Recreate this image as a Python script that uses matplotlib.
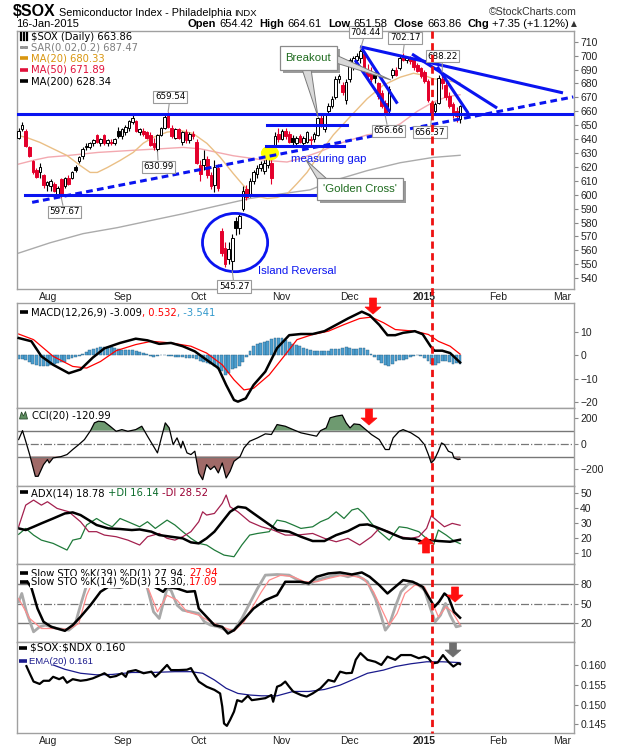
import numpy as np
import matplotlib
matplotlib.use("Agg")
import matplotlib.pyplot as plt
from matplotlib.patches import Ellipse, Polygon, Rectangle
from matplotlib.lines import Line2D
import matplotlib.transforms as mtransforms

plt.rcParams['font.family'] = ['Liberation Sans', 'DejaVu Sans']

# ---------------------------------------------------------------- data
opens = [
    641, 647, 646, 634, 624, 618, 616, 614, 607, 606,
    608, 600, 611, 606, 612, 612, 620, 624, 628, 634,
    634, 637, 643, 637, 643, 637, 638, 637, 646, 642,
    645, 648, 652, 653, 645, 646, 645, 643, 637, 633,
    643, 648, 658, 648, 641, 647, 638, 645, 639, 644,
    638, 621, 621, 626, 614, 607, 619, 574, 562, 554,
    552, 581, 576, 590, 604, 600, 610, 615, 619, 617,
    621, 623, 636, 644, 640, 646, 644, 641, 637, 642,
    637, 638, 639, 640, 643, 655, 647, 660, 664, 670,
    683, 679, 668, 683, 694, 697, 698, 701, 690, 688,
    686, 680, 673, 666, 661, 686, 690, 691, 700, 697,
    698, 697, 693, 691, 688, 682, 666, 660, 666, 683,
    679, 671, 665, 660, 654.42]
highs = [
    648, 652, 647, 635, 625, 619, 623, 615, 610, 611,
    609, 606, 612, 613, 614, 617, 621, 628, 634, 637,
    638, 640, 644, 641, 644, 640, 640, 641, 649, 648,
    650, 654, 657, 654, 648, 648, 646, 645, 641, 644,
    649, 657, 659.54, 650, 648, 648, 646, 647, 645, 646,
    640, 625, 632, 628, 616, 625, 622, 576, 566, 566,
    572, 584, 587, 606, 607, 612, 618, 621, 624, 625,
    630, 626, 645, 648, 647, 648, 646, 643, 642, 644,
    642, 646, 642, 645, 656, 657, 658, 666, 671, 685,
    687, 681, 683, 698, 700, 702, 704.44, 703, 694, 692,
    688, 681, 675, 668, 678, 691, 692, 700, 702.17, 700,
    700, 699, 695, 692, 690, 683, 668, 667, 686, 688.22,
    682, 674, 667, 663, 664.61]
lows = [
    640, 646, 634, 627, 615, 612, 612, 605, 603, 603,
    602, 599, 597.67, 605, 607, 611, 616, 623, 626, 632,
    633, 635, 637, 635, 636, 635, 636, 636, 641, 640,
    643, 646, 651, 645, 643, 642, 640, 635, 632, 630.99,
    642, 647, 648, 641, 640, 640, 636, 637, 637, 640,
    622, 610, 618, 612, 604, 602, 603, 556, 548, 550,
    545.27, 571, 572, 588, 596, 598, 608, 612, 617, 615,
    619, 608, 635, 638, 639, 640, 637, 636, 635, 637,
    636, 637, 636, 638, 642, 649, 645, 658, 662, 669,
    680, 672, 665, 681, 690, 693, 695, 686, 683, 681,
    680, 669, 662, 656.66, 659, 684, 685, 690, 696, 695,
    694, 690, 688, 684, 680, 667, 656.37, 658, 665, 676,
    668, 662, 655, 652, 651.58]
closes = [
    646, 650, 635, 628, 616, 613, 620, 607, 609, 610,
    603, 605, 600, 612, 608, 616, 618, 627, 633, 635,
    637, 639, 638, 640, 637, 639, 637, 640, 642, 647,
    649, 653, 655, 646, 647, 644, 641, 636, 634, 643,
    648, 656, 649, 642, 647, 641, 645, 639, 644, 642,
    623, 615, 626, 614, 606, 620, 605, 558, 550, 561,
    569, 576, 585, 603, 598, 610, 616, 619, 622, 623,
    628, 612, 642, 640, 646, 642, 638, 638, 641, 638,
    641, 645, 640, 644, 655, 651, 657, 664, 669, 683,
    685, 674, 681, 697, 698, 700, 703, 688, 685, 683,
    684, 671, 664, 659, 676, 690, 686, 698, 697, 698,
    696, 692, 689, 685, 682, 668, 659, 665, 684, 680,
    670, 664, 658, 656.51, 663.86]

ma20_days = [0, 2.4, 6.0, 9.7, 13.6, 17.3, 20.1, 22.1, 24.9, 28.5, 32.2, 35.0, 37.8, 41.7,
             45.4, 49.0, 52.9, 56.6, 60.3, 63.1, 65.9, 69.8, 72.6, 75.4, 78.2, 81.0, 84.7,
             88.4, 93.1, 97.9, 102.4, 107.2, 110.9, 113.7, 116.4, 120.4, 124]
ma20_vals = [642.5, 641, 637.6, 633, 628.2, 621, 616, 616, 619.5, 624.6, 630.4, 637, 641.2, 645,
             646.2, 644, 636.9, 627, 615.2, 606.8, 599.5, 597.3, 598, 600.5, 608, 616, 630,
             643, 656, 669, 678.7, 684.5, 687.3, 686, 683.4, 682, 680.33]
ma50_days = [0, 4.6, 8.3, 13.1, 22.3, 32.7, 39.7, 46.2, 51.0, 60.3, 69.8, 75.4, 79.1, 84.7,
             90.3, 97.9, 102.4, 107.2, 112.0, 116.4, 120.4, 124]
ma50_vals = [622, 625, 627, 628, 630.4, 632, 633, 634, 633, 628, 624.6, 623.5, 626, 631,
             637, 643, 645, 651, 660, 666.5, 670.5, 671.89]
ma200_days = [0, 8.8, 18.1, 27.7, 36.9, 46.2, 55.8, 65.0, 74.3, 81.9, 88.3, 97.9, 107.2, 116.4, 124]
ma200_vals = [558, 565.4, 572, 576.3, 581.3, 586.3, 592, 597.3, 600.8, 603.5, 610, 617.3, 623,
              626.8, 628.34]
sar_last = 687.47

macd_days = [0, 3.6, 6.4, 9.7, 14.1, 17.4, 20.8, 24.1, 28.5, 32.9, 36.2, 39.5, 42.8, 46.1, 49.5,
             52.8, 56.1, 58.3, 60.5, 61.6, 63.8, 66.0, 69.3, 72.6, 76.0, 79.3, 82.6, 85.9, 89.2,
             92.5, 96.4, 98.6, 101.3, 103.6, 105.8, 108.0, 111.3, 113.5, 115.7, 116.8, 119.0,
             121.2, 124.0]
macd_vals = [7.4, 6.0, -0.4, -4.0, -7.6, -6.0, -1.0, 3.0, 5.3, 7.1, 6.4, 4.9, 5.3, 3.9, 1.7,
             -1.9, -5.4, -12.6, -19.0, -19.7, -18.3, -12.6, -6.9, 3.1, 8.6, 9.1, 9.1, 10.3, 13.0,
             15.7, 18.6, 17.1, 13.0, 8.6, 8.6, 9.6, 10.3, 9.0, 3.9, 2.0, 2.0, 1.0, -3.009]
signal_days = [0, 4.2, 9.7, 15.2, 19.1, 23.0, 27.4, 32.9, 37.3, 42.8, 48.4, 52.8, 57.2, 60.5,
               63.3, 66.0, 70.4, 74.9, 78.2, 82.6, 87.0, 91.4, 95.8, 99.1, 102.5, 105.8, 111.3,
               115.1, 117.9, 121.2, 124.0]
signal_vals = [9.1, 6.7, -0.4, -4.7, -5.4, -2.6, 2.0, 4.6, 6.0, 5.3, 3.9, 1.0, -4.0, -10.4,
               -14.7, -14.0, -8.3, 0.3, 6.7, 8.9, 10.3, 13.1, 15.7, 16.3, 13.9, 11.0, 10.3, 8.9,
               6.0, 3.9, 0.532]
macd_hist = [
    -1.4, -1.5, -1.8, -2.8, -3.5, -4.0, -4.4, -4.7, -4.5, -4.3,
    -3.5, -3.2, -3.0, -2.8, -1.6, -1.2, -0.8, -0.2, 0.8, 1.5,
    2.2, 2.8, 3.3, 3.5, 3.6, 3.6, 3.4, 3.0, 2.6, 2.4,
    2.4, 2.3, 2.1, 2.0, 1.5, 1.0, 0.6, -0.3, -0.5, -0.3,
    0.0, 0.1, -0.2, -0.4, -0.5, -0.6, -0.9, -1.1, -1.0, -1.2,
    -1.5, -2.4, -3.0, -3.2, -3.5, -4.5, -5.6, -6.5, -8.3, -7.5,
    -6.0, -5.2, -4.5, -2.8, -0.5, 2.0, 3.8, 5.0, 5.4, 5.6,
    6.0, 6.8, 7.2, 7.4, 7.3, 6.5, 5.5, 4.8, 4.6, 4.2,
    3.3, 2.6, 2.2, 2.0, 1.9, 2.0, 1.9, 2.0, 2.6, 2.9,
    2.7, 3.1, 3.5, 3.0, 2.6, 2.9, 3.1, 3.2, 2.2, 0.5,
    -0.8, -1.9, -3.2, -4.3, -4.7, -3.6, -2.6, -2.0, -1.9, -1.5,
    -0.9, -0.3, 0.0, -0.3, -1.0, -2.5, -3.8, -4.0, -3.2, -2.6,
    -2.2, -3.0, -3.6, -3.3, -3.541]

cci_days = [0, 1.1, 2.0, 3.1, 4.7, 5.5, 7.0, 8.1, 8.6, 9.7, 10.8, 11.9, 13.6, 15.2, 16.9, 18.5,
            20.2, 21.3, 22.4, 24.1, 25.7, 27.4, 29.0, 30.7, 32.9, 34.6, 36.2, 37.9, 39.0, 40.1,
            41.2, 42.3, 43.4, 44.5, 45.6, 46.1, 47.3, 48.4, 49.5, 50.6, 51.7, 52.8, 53.9, 55.0,
            56.1, 57.2, 58.3, 59.4, 60.5, 62.2, 63.3, 64.9, 67.1, 69.3, 71.0, 72.6, 74.9, 77.1,
            79.3, 81.5, 83.7, 84.8, 86.4, 87.5, 89.2, 90.9, 92.0, 93.1, 94.2, 95.8, 97.5, 99.1,
            101.3, 103.0, 104.1, 105.2, 106.9, 108.0, 110.2, 112.4, 114.0, 115.1, 115.9, 116.8,
            117.9, 118.8, 119.6, 120.7, 121.8, 122.3, 123.4, 124.0]
cci_vals = [31, 100, 18, -85, -253, -253, -163, -124, -150, -111, -106, -101, -85, -46, -8, 31,
            100, 160, 173, 168, 134, 95, 108, 95, 108, 134, 57, -21, -72, 44,
            160, 121, -8, 44, -34, 18, -72, -85, -59, -227, -279, -163, -201, -175,
            -227, -150, -266, -214, -137, -101, -34, 18, 44, 75, 70, 147, 134, 108,
            83, 70, 57, 100, 121, 199, 212, 220, 160, 121, 152, 147, 108, 70,
            31, -46, -46, 44, 95, 108, 83, 44, -8, -85, -150, -124,
            -59, 5, -8, -59, -72, -111, -124, -120.99]

adx_days = [0, 2.0, 4.2, 6.4, 9.7, 13.0, 15.2, 17.4, 19.7, 21.9, 25.2, 28.5, 31.8, 34.0, 37.3,
            39.5, 42.8, 46.1, 48.4, 50.6, 52.8, 55.0, 57.2, 59.4, 61.6, 63.8, 66.0, 69.3, 72.6,
            76.0, 79.3, 82.6, 85.9, 89.2, 92.5, 95.8, 98.0, 100.2, 102.5, 105.8, 108.0, 111.3,
            113.5, 115.7, 117.9, 121.2, 124.0]
adx_vals = [26.4, 25.3, 27.5, 29.8, 33.1, 36.5, 37.2, 35.4, 32.0, 28.7, 26.4, 26.0, 25.3, 25.7,
            24.2, 21.9, 20.8, 19.7, 17.0, 16.3, 19.7, 24.2, 30.9, 37.6, 41.0, 40.3, 36.5, 30.9,
            25.3, 24.2, 20.8, 17.9, 17.9, 21.9, 24.6, 28.7, 29.1, 27.5, 25.3, 21.9, 19.7, 19.2,
            17.4, 18.5, 17.9, 17.4, 18.78]
pdi_days = [0, 2.0, 4.2, 6.4, 9.7, 13.6, 15.2, 17.4, 19.1, 21.9, 24.1, 26.3, 28.5, 30.7, 34.0,
            36.2, 38.4, 41.7, 43.9, 46.1, 48.4, 50.6, 52.8, 55.0, 57.7, 60.5, 62.7, 64.9, 67.1,
            70.4, 72.6, 74.9, 77.1, 79.3, 82.6, 84.8, 87.0, 89.2, 91.4, 93.6, 95.3, 96.9, 99.1,
            101.3, 104.1, 106.9, 109.1, 112.4, 114.0, 115.7, 116.6, 117.9, 120.1, 122.3, 124.0]
pdi_vals = [22.4, 26.4, 21.9, 18.5, 16.3, 11.8, 18.5, 19.7, 28.7, 33.1, 29.8, 27.5, 33.1, 30.9,
            27.5, 30.9, 26.4, 32.0, 28.7, 24.2, 19.7, 16.3, 15.2, 11.8, 8.4, 7.3, 15.2, 21.9,
            23.0, 24.2, 32.0, 30.9, 28.7, 26.4, 27.5, 30.9, 33.1, 37.6, 33.1, 38.8, 39.9, 36.5,
            29.8, 24.2, 18.5, 27.5, 26.8, 24.2, 20.8, 17.4, 15.6, 25.3, 21.9, 17.9, 16.14]
mdi_days = [0, 2.0, 4.2, 6.4, 8.1, 10.8, 14.1, 17.4, 19.7, 21.9, 24.1, 27.4, 30.7, 34.0, 36.2,
            39.5, 41.7, 43.9, 46.1, 48.4, 50.6, 51.7, 52.8, 55.0, 57.2, 58.3, 59.4, 61.6, 64.9,
            68.2, 71.5, 74.9, 78.2, 82.6, 85.9, 89.2, 92.5, 95.8, 99.1, 101.3, 104.1, 106.9,
            110.2, 112.4, 114.6, 115.9, 117.9, 119.6, 121.8, 124.0]
mdi_vals = [27.5, 42.1, 45.5, 42.1, 44.4, 39.9, 37.6, 30.9, 24.2, 24.2, 21.9, 20.8, 18.5, 15.2,
            20.8, 23.0, 19.7, 18.5, 20.8, 24.2, 30.9, 37.6, 35.4, 36.5, 43.3, 48.9, 41.0, 37.6,
            30.9, 27.5, 25.3, 21.9, 21.9, 23.0, 19.7, 17.4, 19.7, 15.2, 20.8, 26.4, 24.2, 20.8,
            19.7, 20.8, 26.4, 34.9, 30.9, 27.5, 29.8, 28.52]

sto39_days = [2.5, 3.6, 5.3, 7.0, 9.2, 13.0, 15.2, 17.4, 20.2, 23.0, 25.2, 28.5, 32.9, 36.2, 39.0,
              40.6, 41.7, 44.5, 47.3, 49.5, 50.6, 52.8, 55.0, 57.2, 58.8, 60.5, 62.7, 66.0, 69.3,
              72.6, 74.9, 77.1, 79.3, 81.5, 83.7, 87.0, 90.3, 93.6, 96.4, 98.6, 101.3, 103.6,
              105.8, 108.0, 110.7, 113.5, 115.7, 116.8, 118.1, 119.6, 120.7, 122.3, 124.0]
sto39_vals = [84, 74.8, 42.4, 21.6, 13.7, 7.5, 16.4, 29.4, 47.7, 68.5, 76.3, 75.3, 80, 82, 73.7,
              68.5, 76, 73.7, 68.5, 69.5, 42.4, 29.4, 16.4, 13.7, 3.3, 8.5, 21.6, 42.4, 55.5,
              63.3, 84.2, 84.2, 84.2, 81.6, 92, 97.2, 98.8, 95.6, 98.8, 92, 79, 65.9,
              76.3, 86.8, 84.2, 76.3, 55.5, 45, 52.9, 65.9, 60.7, 37.2, 27.94]
sto14_days = [0, 0.9, 2.2, 4.2, 5.9, 7.5, 10.8, 14.1, 15.8, 17.4, 19.1, 20.2, 24.1, 28.5, 32.9,
              35.1, 36.2, 37.9, 39.5, 41.7, 42.8, 44.5, 46.1, 48.4, 50.6, 52.2, 53.9, 56.1, 58.3,
              60.5, 62.7, 64.9, 67.1, 69.3, 72.6, 76.0, 79.3, 81.5, 83.7, 87.0, 90.3, 92.5, 94.7,
              98.0, 100.2, 101.9, 103.0, 104.1, 105.8, 107.4, 109.6, 111.8, 114.0, 115.7, 117.0,
              118.5, 119.9, 121.2, 122.9, 124.0]
sto14_vals = [52.9, 65.9, 37.2, 5.9, 13.7, 16.4, 11.1, 8.5, 16.4, 47.7, 78.9, 95, 95, 92, 88,
              85, 73.7, 37.2, 26.8, 73.7, 71, 47.7, 39.8, 37.2, 34.6, 21.6, 16.4, 13.7, 8.5,
              8.5, 26.8, 50.3, 73.7, 94.6, 95.6, 94.6, 84.2, 80, 86.8, 92, 95.6, 92, 95.6,
              84.2, 58.1, 29.4, 8.5, 16.4, 45, 68.5, 81.6, 81.6, 71.1, 42.4, 21.6,
              32, 50.3, 32, 13.7, 15.30]
std3_days = [0, 3.1, 6.4, 9.7, 14.1, 16.9, 19.1, 21.3, 28.5, 35.1, 36.8, 39.0, 41.7, 44.5, 47.3,
             50.6, 53.9, 57.2, 60.5, 63.3, 66.0, 68.2, 70.4, 73.7, 77.1, 80.4, 83.7, 87.0, 90.3,
             93.6, 96.9, 99.7, 101.9, 104.1, 106.3, 108.5, 111.3, 114.0, 116.3, 117.9, 120.1,
             121.8, 124.0]
std3_vals = [58, 26.8, 11.1, 11.1, 10, 19, 63, 90, 92, 88, 68.5, 37.2, 63, 55.5, 37.2,
             32, 21.6, 13.7, 7, 21.6, 47.7, 68.5, 86.8, 94.6, 92, 84.2, 84.2, 89.4, 93.6,
             93.6, 89.4, 68.5, 42.4, 16.4, 34.6, 65.9, 79, 76.3, 50.3, 29.4, 45,
             37.2, 17.09]

ratio_days = [2.2, 3.1, 4.2, 5.9, 7.0, 8.6, 9.7, 11.4, 12.5, 13.6, 15.2, 17.4, 19.1, 20.8, 22.4,
              24.1, 25.7, 27.4, 29.0, 30.1, 30.7, 32.9, 35.1, 37.3, 38.4, 39.5, 41.7, 42.8, 45.0,
              47.3, 48.4, 49.5, 50.6, 52.8, 55.0, 56.6, 57.2, 57.7, 58.5, 59.4, 60.5, 61.4, 62.7,
              64.4, 65.5, 67.1, 69.3, 71.0, 71.5, 72.6, 73.7, 74.9, 76.0, 77.1, 79.3, 80.9, 82.6,
              84.8, 87.0, 88.7, 90.3, 92.0, 93.6, 94.7, 96.0, 98.0, 100.2, 101.9, 103.6, 105.8,
              107.4, 110.2, 112.4, 114.0, 115.1, 116.3, 117.7, 119.2, 120.7, 122.1, 123.4, 124.0]
ratio_vals = [0.1597, 0.1579, 0.1558, 0.1552, 0.1560, 0.1560, 0.1570, 0.1564, 0.1569, 0.1555,
              0.1564, 0.1560, 0.1562, 0.1566, 0.1572, 0.1579, 0.1569, 0.1572, 0.1579, 0.1570,
              0.1583, 0.1587, 0.1579, 0.1583, 0.1570, 0.1579, 0.1600, 0.1587, 0.1587, 0.1588,
              0.1592, 0.1575, 0.1558, 0.1545, 0.1537, 0.1528, 0.1495, 0.1452, 0.1446, 0.1461,
              0.1482, 0.1511, 0.1507, 0.1522, 0.1511, 0.1513, 0.1516, 0.1524, 0.1507, 0.1545,
              0.1549, 0.1558, 0.1545, 0.1533, 0.1524, 0.1520, 0.1528, 0.1541, 0.1562, 0.1558,
              0.1583, 0.1579, 0.1580, 0.1613, 0.1630, 0.1613, 0.1608, 0.1600, 0.1621, 0.1613,
              0.1625, 0.1625, 0.1617, 0.1621, 0.1617, 0.1604, 0.1606, 0.1625, 0.1608, 0.1596,
              0.1604, 0.1602]
ema_days = [9.7, 13.0, 17.4, 21.9, 26.3, 31.8, 37.3, 43.9, 48.4, 51.7, 55.0, 58.3, 61.6, 64.9,
            68.2, 72.6, 77.1, 81.5, 85.9, 90.3, 94.7, 98.0, 102.5, 105.8, 110.2, 114.6, 119.0,
            124.0]
ema_vals = [0.1600, 0.1589, 0.1579, 0.1575, 0.1576, 0.1581, 0.1581, 0.1583, 0.1583, 0.1579,
            0.1562, 0.1541, 0.1528, 0.1524, 0.1522, 0.1522, 0.1533, 0.1533, 0.1538, 0.1549,
            0.1566, 0.1579, 0.1587, 0.1596, 0.1603, 0.1608, 0.1608, 0.1606]

month_labels = ["Aug", "Sep", "Oct", "Nov", "Dec", "2015", "Feb", "Mar"]
month_days = [8.3, 29.4, 50.7, 73.8, 92.9, 114.0, 134.6, 152.6]
marker_day = 116.1
date_text = "16-Jan-2015"

peak_days = [42, 96, 108, 119]
trough_days = [12, 39, 60, 103, 116]

# analyst drawings (day, price)
resistance_level = 657.8
support_level = 599.8
support_span = (1.8, 84.1)
rising_trend = [(3.8, 594.5), (155.8, 670.3)]
down_trends = [[(95.9, 706.4), (152.9, 673.2)],
               [(110.5, 701.1), (134.4, 662.3)],
               [(117.6, 692.0), (126.3, 658.5)],
               [(94.5, 696.8), (104.3, 659.5)],
               [(96.4, 705.2), (106.4, 665.5)]]
breakout_levels = [(69.8, 92.3, 649.8), (69.5, 91.4, 634.7)]
gap_marker = (70.6, 629.9, 4.7, 9.6)
island_marker = (60.8, 565.6, 18.3, 41.9)

# ---------------------------------------------------------------- figure
RED = '#e4002b'
BLUE = '#0a14f0'
W, H = 620.0, 750.0
fig = plt.figure(figsize=(6.2, 7.5), dpi=100)
fig.patch.set_facecolor('white')


def fx(x):
    return x / W


def fy(y):
    return 1.0 - y / H


L, R = 17, 574


def panel(top, bottom):
    ax = fig.add_axes([fx(L), fy(bottom), (R - L) / W, (bottom - top) / H])
    ax.set_xlim(-0.45, 156)
    for s in ax.spines.values():
        s.set_color('#a0a0a0')
        s.set_linewidth(1)
    ax.yaxis.tick_right()
    ax.tick_params(axis='y', direction='out', length=3, width=0.8, color='#888888',
                   labelsize=7.5, pad=1.5, labelcolor='#222222')
    ax.tick_params(axis='x', length=0, labelbottom=False)
    return ax


ax = panel(31, 289)
ax_macd = panel(303, 408)
ax_cci = panel(408, 486)
ax_adx = panel(486, 564)
ax_sto = panel(564, 642)
ax_rat = panel(642, 733)

for a in (ax, ax_rat):
    a.set_xticks(month_days)
    a.set_xticklabels(month_labels)
    a.tick_params(axis='x', labelbottom=True, length=0, pad=2.5, labelsize=7.5,
                  labelcolor='#222222')
    a.get_xticklabels()[month_labels.index("2015")].set_fontweight('bold')

# ---------------- main price panel
days = np.arange(len(closes))
o = np.array(opens, float)
h = np.array(highs, float)
lo = np.array(lows, float)
c = np.array(closes, float)
prev = np.r_[c[0], c[:-1]]
edge = np.where(c < prev, RED, 'black')
face = np.where(c >= o, 'white', edge)

ax.plot(ma200_days, ma200_vals, color='#ababab', lw=1.0, zorder=1)
ax.plot(ma50_days, ma50_vals, color='#f3a9b0', lw=1.0, zorder=1)
ax.plot(ma20_days, ma20_vals, color='#eabf85', lw=1.0, zorder=1)

ax.vlines(days, lo, h, colors=edge, lw=0.8, zorder=2)
ax.bar(days, np.maximum(np.abs(c - o), 0.4), bottom=np.minimum(o, c), width=0.75,
       color=face, edgecolor=edge, linewidth=0.7, zorder=3)

ax.axhline(resistance_level, color=BLUE, lw=2.2, zorder=4)
ax.plot(support_span, [support_level] * 2, color=BLUE, lw=2.2, zorder=4)
for d0, d1, lvl in breakout_levels:
    ax.plot([d0, d1], [lvl, lvl], color=BLUE, lw=2.2, zorder=4)
for (d0, p0), (d1, p1) in down_trends:
    ax.plot([d0, d1], [p0, p1], color=BLUE, lw=2.2, zorder=4, solid_capstyle='butt')
gx, gp, gw, gh = gap_marker
ax.add_patch(Ellipse((gx, gp), gw, gh, facecolor='#ffff00', edgecolor='#ffff00', zorder=3.5))
(d0, p0), (d1, p1) = rising_trend
ax.plot([d0, d1], [p0, p1], color=BLUE, lw=2.2, ls=(0, (2.2, 1.4)), zorder=4)
ix, ip, iw, ih = island_marker
ax.add_patch(Ellipse((ix, ip), iw, ih, facecolor='none', edgecolor=BLUE, lw=2, zorder=4))

ax.set_ylim(532.2, 717.7)
ax.set_yticks(np.arange(540, 711, 10))

# price labels (highs/lows)
peak_offsets = {42: (2, 10.5), 96: (5, 12.7), 108: (2, 10.3), 119: (0, 11.4)}
trough_offsets = {12: (3, -9.4), 39: (1, -10.5), 60: (2, -11.2), 103: (3, -10.4), 116: (-1.5, -11.5)}
box = dict(boxstyle='square,pad=0.18', facecolor='white', edgecolor='#9a9a9a', lw=0.8)
for d in peak_days:
    dxp, dyp = peak_offsets[d]
    ax.annotate(f"{highs[d]:.2f}", xy=(d, highs[d]), xytext=(dxp * 0.72, dyp * 0.72),
                textcoords='offset points', ha='center', va='bottom', fontsize=6.3,
                family=['DejaVu Sans'], bbox=box, zorder=6,
                arrowprops=dict(arrowstyle='-', color='#9a9a9a', lw=0.8, shrinkA=0, shrinkB=0))
for d in trough_days:
    dxp, dyp = trough_offsets[d]
    ax.annotate(f"{lows[d]:.2f}", xy=(d, lows[d]), xytext=(dxp * 0.72, dyp * 0.72),
                textcoords='offset points', ha='center', va='top', fontsize=6.3,
                family=['DejaVu Sans'], bbox=box, zorder=6,
                arrowprops=dict(arrowstyle='-', color='#9a9a9a', lw=0.8, shrinkA=0, shrinkB=0))

# ---------------- MACD
ax_macd.bar(days, macd_hist, width=0.8, color='#4c9fd0', edgecolor='#2a5f80', linewidth=0.3,
            zorder=1)
ax_macd.plot(signal_days, signal_vals, color='#ff0000', lw=0.9, zorder=2)
ax_macd.plot(macd_days, macd_vals, color='black', lw=1.8, zorder=3)
ax_macd.set_ylim(-22.4, 22.3)
ax_macd.set_yticks([-20, -10, 0, 10])

# ---------------- CCI
cd = np.array(cci_days)
cv = np.array(cci_vals, float)
ax_cci.fill_between(cd, cv, 100, where=cv > 100, interpolate=True, color='#6e9a70', lw=0)
ax_cci.fill_between(cd, cv, -100, where=cv < -100, interpolate=True, color='#a06a68', lw=0)
for lvl in (100, -100):
    ax_cci.axhline(lvl, color='#777777', lw=1)
ax_cci.axhline(0, color='#777777', lw=0.9, ls='-.')
ax_cci.plot(cd, cv, color='black', lw=0.9)
ax_cci.set_ylim(-328, 275)
ax_cci.set_yticks([-200, 0, 200])

# ---------------- ADX
ax_adx.plot(pdi_days, pdi_vals, color='#1f7a3a', lw=0.9)
ax_adx.plot(mdi_days, mdi_vals, color='#a3204e', lw=0.9)
ax_adx.plot(adx_days, adx_vals, color='black', lw=1.8)
ax_adx.set_ylim(2.4, 55)
ax_adx.set_yticks([10, 20, 30, 40, 50])

# ---------------- Slow stochastics
for lvl in (80, 20):
    ax_sto.axhline(lvl, color='#777777', lw=1)
ax_sto.axhline(50, color='#777777', lw=0.9, ls='-.')
ax_sto.plot(sto14_days, sto14_vals, color='#a9a9a9', lw=2.0)
ax_sto.plot(std3_days, std3_vals, color='#ff8c8c', lw=0.9)
ax_sto.plot(sto39_days, sto39_vals, color='black', lw=1.8)
ax_sto.set_ylim(-10, 112)
ax_sto.set_yticks([20, 50, 80])

# ---------------- ratio
ax_rat.plot(ema_days, ema_vals, color='#1a1a8c', lw=0.9)
ax_rat.plot(ratio_days, ratio_vals, color='black', lw=1.6)
ax_rat.set_ylim(0.1428, 0.1658)
ax_rat.set_yticks([0.145, 0.150, 0.155, 0.160])
ax_rat.set_yticklabels([f"{v:.3f}" for v in [0.145, 0.150, 0.155, 0.160]])

# ---------------------------------------------------------------- text helpers
renderer = fig.canvas.get_renderer()


def width_of(s, size, family, weight='normal'):
    t = fig.text(0, 0, s, fontsize=size, family=family, fontweight=weight)
    wdt = t.get_window_extent(renderer).width
    t.remove()
    return wdt


def rich(x, y, parts, size=7.2, family=('DejaVu Sans',), align='left', bg=False):
    """parts: (text, colour, weight[, size]); '$' is escaped so it stays literal."""
    fam = list(family)
    items = []
    total = 0.0
    for p in parts:
        s, col, wt = p[0], p[1], p[2]
        sz = p[3] if len(p) > 3 else size
        sp = width_of("x x", sz, fam) - width_of("xx", sz, fam)
        lead = len(s) - len(s.lstrip(' '))
        trail = len(s) - len(s.rstrip(' '))
        core = s.strip(' ').replace('$', r'\$')
        wdt = width_of(core, sz, fam, wt) if core else 0.0
        items.append((core, col, wt, sz, lead * sp, wdt, trail * sp))
        total += lead * sp + wdt + trail * sp
    cur = x if align == 'left' else x - total
    for core, col, wt, sz, lw_, wdt, tw in items:
        cur += lw_
        if core:
            t = fig.text(fx(cur), fy(y), core, fontsize=sz, color=col, fontweight=wt,
                         family=fam, va='baseline', ha='left', zorder=5)
            if bg:
                t.set_bbox(dict(facecolor='white', edgecolor='none', pad=0.8))
        cur += wdt + tw


def swatch(x, y, color, lw=2.6, length=8):
    fig.add_artist(Line2D([fx(x), fx(x + length)], [fy(y), fy(y)], color=color, lw=lw,
                          transform=fig.transFigure, solid_capstyle='butt', zorder=6))


# ---------------- header (y values are baselines)
HF = ('Liberation Sans', 'DejaVu Sans')
rich(13, 16, [("$SOX", 'black', 'bold', 11.5),
              (" Semiconductor Index - Philadelphia ", 'black', 'normal', 7.8),
              ("INDX", 'black', 'normal', 6.8)], family=HF)
rich(577, 15, [("\u00a9StockCharts.com", '#333333', 'normal')], size=7.6, family=HF,
     align='right')
rich(16, 27, [(date_text, 'black', 'normal')], size=8, family=HF)
chg = closes[-1] - closes[-2]
pct = chg / closes[-2] * 100
rich(569, 27, [("Open", 'black', 'bold'), (f" {opens[-1]:.2f}  ", 'black', 'normal'),
               ("High", 'black', 'bold'), (f" {highs[-1]:.2f}  ", 'black', 'normal'),
               ("Low", 'black', 'bold'), (f" {lows[-1]:.2f}  ", 'black', 'normal'),
               ("Close", 'black', 'bold'), (f" {closes[-1]:.2f}  ", 'black', 'normal'),
               ("Chg", 'black', 'bold'), (f" {chg:+.2f} ({pct:+.2f}%)", 'black', 'normal')],
     size=8, family=HF, align='right')
fig.text(fx(571), fy(24), "\u25b2", fontsize=5.5, family=['DejaVu Sans'], va='center',
         ha='left', color='#333333')

# ---------------- legends (y values are baselines)
LF = ('DejaVu Sans',)
for xx in (20.5, 23.5, 26.5):
    fig.add_artist(Line2D([fx(xx), fx(xx)], [fy(32.5), fy(39.5)], color='black', lw=1.6,
                          transform=fig.transFigure))
rich(31, 39.5, [(f"$SOX (Daily) {closes[-1]:.2f}", 'black', 'normal')], family=LF)
for xx in (21.5, 25.5):
    fig.add_artist(Rectangle((fx(xx) - 1.2 / W, fy(47) - 1.2 / H), 2.4 / W, 2.4 / H,
                             transform=fig.transFigure, facecolor='#999999', edgecolor='#777777',
                             lw=0.5))
rich(31, 50.5, [(f"SAR(0.02,0.2) {sar_last:.2f}", '#808080', 'normal')], family=LF)
swatch(20, 58.3, '#d9960f')
rich(31, 61.8, [(f"MA(20) {ma20_vals[-1]:.2f}", '#d9960f', 'normal')], family=LF)
swatch(20, 69.5, '#e0103a')
rich(31, 73, [(f"MA(50) {ma50_vals[-1]:.2f}", '#e0103a', 'normal')], family=LF)
swatch(20, 80.7, 'black')
rich(31, 84.2, [(f"MA(200) {ma200_vals[-1]:.2f}", 'black', 'normal')], family=LF)

swatch(20, 312, 'black')
rich(31, 315.5, [(f"MACD(12,26,9) {macd_vals[-1]:.3f}", 'black', 'normal'),
                 (f", {signal_vals[-1]:.3f}", '#ff0000', 'normal'),
                 (f", {macd_hist[-1]:.3f}", '#3399cc', 'normal')], family=LF)
fig.add_artist(Polygon([(fx(19.5), fy(419)), (fx(21.5), fy(412)), (fx(23.5), fy(416)),
                        (fx(25.5), fy(411.5)), (fx(27.5), fy(419))], closed=True,
                       transform=fig.transFigure, facecolor='#5f8f62', edgecolor='#2e4e30',
                       lw=0.6))
rich(32, 419, [(f"CCI(20) {cci_vals[-1]:.2f}", 'black', 'normal')], family=LF)
swatch(20, 492.5, 'black')
rich(31, 496, [(f"ADX(14) {adx_vals[-1]:.2f}", 'black', 'normal'),
               (f" +DI {pdi_vals[-1]:.2f}", '#0a6b2a', 'normal'),
               (f" -DI {mdi_vals[-1]:.2f}", '#990033', 'normal')], family=LF)
swatch(20, 572.5, 'black')
rich(31, 576, [(f"Slow STO %K(39) %D(1) {sto39_vals[-1]:.2f}, ", 'black', 'normal'),
               (f"{sto39_vals[-1]:.2f}", '#ff0000', 'normal')], family=LF, bg=True)
swatch(20, 581.5, 'black')
rich(31, 585, [(f"Slow STO %K(14) %D(3) {sto14_vals[-1]:.2f}, ", 'black', 'normal'),
               (f"{std3_vals[-1]:.2f}", '#ff0000', 'normal')], family=LF, bg=True)
swatch(19, 647.5, 'black')
rich(30, 651, [(f"$SOX:$NDX {ratio_vals[-1]:.3f}", 'black', 'normal')], size=7.6, family=LF)
swatch(19, 660.7, '#1a1a8c')
rich(29, 663.5, [(f"EMA(20) {ema_vals[-1]:.3f}", '#1a1a8c', 'normal')], size=6.8, family=HF)

# ---------------- call-outs on the price panel
def fpoly(pts, **kw):
    fig.add_artist(Polygon([(fx(x), fy(y)) for x, y in pts], closed=True,
                           transform=fig.transFigure, **kw))


def callout(x0, y0, x1, y1, text):
    fig.add_artist(Rectangle((fx(x0 + 3), fy(y1 + 3)), (x1 - x0) / W, (y1 - y0) / H,
                             transform=fig.transFigure, facecolor='#9c9c9c', edgecolor='none',
                             zorder=4))
    fig.add_artist(Rectangle((fx(x0), fy(y1)), (x1 - x0) / W, (y1 - y0) / H,
                             transform=fig.transFigure, facecolor='white', edgecolor='#8a8a8a',
                             lw=0.9, zorder=4.5))
    fig.text(fx((x0 + x1) / 2), fy((y0 + y1) / 2), text, color='#1e6b1e', fontsize=8.2,
             ha='center', va='center', zorder=5)


pk = dict(facecolor='#d9d9d9', edgecolor='#7a7a7a', lw=0.7, zorder=4.2)
fpoly([(302, 69), (311, 69), (318, 117)], **pk)
fpoly([(336, 55), (336, 63), (391, 80)], **pk)
fpoly([(318, 180), (328, 180), (306, 160)], **pk)
callout(280, 46, 337, 70, "Breakout")
callout(317, 178, 403, 200, "'Golden Cross'")
fig.text(fx(291), fy(159), "measuring gap", color=BLUE, fontsize=8.2, ha='left', va='center')
fig.text(fx(258), fy(271), "Island Reversal", color=BLUE, fontsize=8.2, ha='left',
         va='center')

# ---------------- date marker and arrows
trans = mtransforms.blended_transform_factory(ax.transData, fig.transFigure)
fig.add_artist(Line2D([marker_day, marker_day], [fy(31), fy(733)], transform=trans,
                      color='#ee1111', lw=2.0, ls=(0, (2.6, 1.6)), zorder=7))


def block_arrow(cx, y_tail, y_tip, color, shaft=7, head=16, head_len=7):
    d = 1 if y_tip > y_tail else -1
    yn = y_tip - d * head_len
    pts = [(cx - shaft / 2, y_tail), (cx + shaft / 2, y_tail), (cx + shaft / 2, yn),
           (cx + head / 2, yn), (cx, y_tip), (cx - head / 2, yn), (cx - shaft / 2, yn)]
    fpoly(pts, facecolor=color, edgecolor=color, lw=0.5, zorder=8)


block_arrow(373, 298, 314, '#ff1010')
block_arrow(369, 409, 425, '#ff1010')
block_arrow(426, 553, 537, '#ff1010')
block_arrow(455, 587, 602, '#ff1010')
block_arrow(453, 643, 657, '#6e6e6e')

fig.savefig('out.png', dpi=100)
